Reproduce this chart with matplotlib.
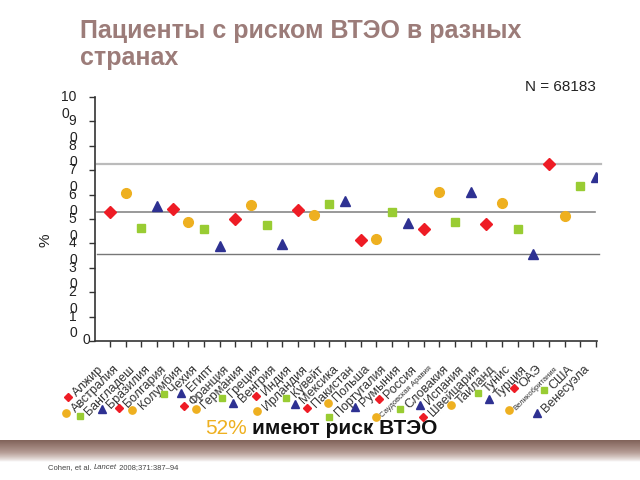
import numpy as np
import matplotlib
matplotlib.use("Agg")
import matplotlib.pyplot as plt
from matplotlib.colors import LinearSegmentedColormap

plt.rcParams['font.family'] = ['Liberation Sans', 'DejaVu Sans']

countries = ['Алжир', 'Австралия', 'Бангладеш', 'Бразилия', 'Болгария', 'Колумбия',
             'Чехия', 'Египт', 'Франция', 'Германия', 'Греция', 'Венгрия', 'Индия',
             'Ирландия', 'Кувейт', 'Мексика', 'Пакистан', 'Польша', 'Португалия',
             'Румыния', 'Россия', 'Саудовская Аравия', 'Словакия', 'Испания',
             'Швейцария', 'Таиланд', 'Тунис', 'Турция', 'ОАЭ', 'Великобритания',
             'США', 'Венесуэла']
risk = [52.9, 60.7, 46.3, 55.3, 54.1, 48.8, 45.9, 38.9, 50.0, 55.7, 47.5, 39.8,
        53.7, 51.6, 56.1, 57.4, 41.4, 41.8, 52.9, 48.4, 45.9, 61.1, 48.8, 61.1,
        48.0, 56.6, 45.9, 35.7, 72.5, 51.2, 63.5, 67.2]
ref_lines = [72.5, 52.9, 35.5]
small_labels = ['Саудовская Аравия', 'Великобритания']

markers = ['D', 'o', 's', '^']
colors = ['#ee1c25', '#eeb020', '#99cc33', '#2e3192']
msizes = [6, 7, 5.5, 7]

fig = plt.figure(figsize=(6.4, 4.8), dpi=100)
ax = fig.add_axes([95/640, 1-341/480, 502/640, 244/480])

x = np.arange(len(countries))
for i, v in enumerate(risk):
    k = i % 4
    ax.plot(x[i], v, marker=markers[k], color=colors[k], ms=msizes[k],
            linestyle='none', zorder=3)

# горизонтальные линии
ax.axhline(ref_lines[0], xmin=0.004, xmax=1.008, color='#bbbbbb', lw=1.6, clip_on=False)
ax.axhline(ref_lines[1], xmin=0.004, xmax=0.996, color='#888888', lw=1.2, clip_on=False)
ax.axhline(ref_lines[2], xmin=0.004, xmax=1.004, color='#777777', lw=1.0, clip_on=False)

ax.set_xlim(-0.96, 31.07)
ax.set_ylim(0, 100)
for s in ['top', 'right']:
    ax.spines[s].set_visible(False)
for s in ['left', 'bottom']:
    ax.spines[s].set_color('#333333')
    ax.spines[s].set_linewidth(1.2)
ax.set_xticks(x)
ax.set_xticklabels([])
ax.set_yticks(np.arange(0, 101, 10))
ax.set_yticklabels([])
ax.tick_params(axis='both', direction='out', length=4, width=1, color='#333333')

# подписи оси Y, перенесённые на две строки как на слайде
for v in range(10, 101, 10):
    first = str(v)[:-1]
    ax.annotate(first, xy=(0, v), xycoords=('axes fraction', 'data'),
                xytext=(-13.5, 0), textcoords='offset points',
                ha='right', va='center', fontsize=10, color='#222222')
    ax.annotate('0', xy=(0, v), xycoords=('axes fraction', 'data'),
                xytext=(-13.5 - 5.2 * len(first), -12), textcoords='offset points',
                ha='left', va='center', fontsize=10, color='#222222')
ax.annotate('0', xy=(0, 0), xycoords=('axes fraction', 'data'),
            xytext=(-3.5, 1), textcoords='offset points',
            ha='right', va='center', fontsize=10, color='#222222')

fig.text(45/640, 1-240/480, '%', rotation=90, ha='center', va='center',
         fontsize=11, color='#222222')

# подписи стран
labels = []
for i, name in enumerate(countries):
    fs = 5.5 if name in small_labels else 9
    t = ax.annotate(name, xy=(x[i], 0), xycoords='data',
                    xytext=(-6, -19), textcoords='offset points',
                    rotation=45, rotation_mode='anchor', ha='right', va='center',
                    fontsize=fs, color='#333333', annotation_clip=False)
    labels.append(t)

# ссылка на источник (части ставятся по ширине после отрисовки)
cite_y = 1 - 469/480
c1 = fig.text(48/640, cite_y, 'Cohen, et al. ', ha='left', va='baseline',
              fontsize=5.5, color='#444444')

fig.canvas.draw()
renderer = fig.canvas.get_renderer()
inv = fig.transFigure.inverted()
for i, t in enumerate(labels):
    bb = t.get_window_extent(renderer)
    fx, fy = inv.transform((bb.x0 - 3, bb.y0 + 2))
    k = i % 4
    fig.add_artist(plt.Line2D([fx], [fy], marker=markers[k], color=colors[k],
                              ms=msizes[k] * 0.75, linestyle='none',
                              transform=fig.transFigure))

x_next = inv.transform((c1.get_window_extent(renderer).x1, 0))[0]
c2 = fig.text(x_next, cite_y, 'Lancet', ha='left', va='baseline',
              fontsize=5.5, style='italic', color='#444444')
fig.canvas.draw()
x_next = inv.transform((c2.get_window_extent(renderer).x1, 0))[0]
fig.text(x_next, cite_y, ' 2008;371:387–94', ha='left', va='baseline',
         fontsize=5.5, color='#444444')

# заголовок и подписи
fig.text(80/640, 1-19/480, 'Пациенты с риском ВТЭО в разных\nстранах',
         ha='left', va='top', fontsize=18, fontweight='bold', color='#9c7c79',
         linespacing=1.17)
fig.text(560/640, 1-87/480, 'N = 68183', ha='center', va='center',
         fontsize=11, color='#222222')

t1 = fig.text(205/640, 1-428/480, '52%', ha='left', va='center',
              fontsize=15, color='#eeb020')
ax.annotate('имеют риск ВТЭО', xy=(1, 0.5), xycoords=t1, xytext=(4, 0),
            textcoords='offset points', ha='left', va='center',
            fontsize=15, fontweight='bold', color='#111111')

# декоративная полоса
band = fig.add_axes([0, 1-462/480, 1, 22/480])
cmap = LinearSegmentedColormap.from_list('band', ['#ffffff', '#b59c95', '#7e5f56'])
band.imshow(np.linspace(1, 0, 50).reshape(-1, 1) ** 0.8,
            aspect='auto', cmap=cmap, extent=[0, 1, 0, 1], vmin=0, vmax=1)
band.axis('off')

fig.savefig('out.png', dpi=100)
